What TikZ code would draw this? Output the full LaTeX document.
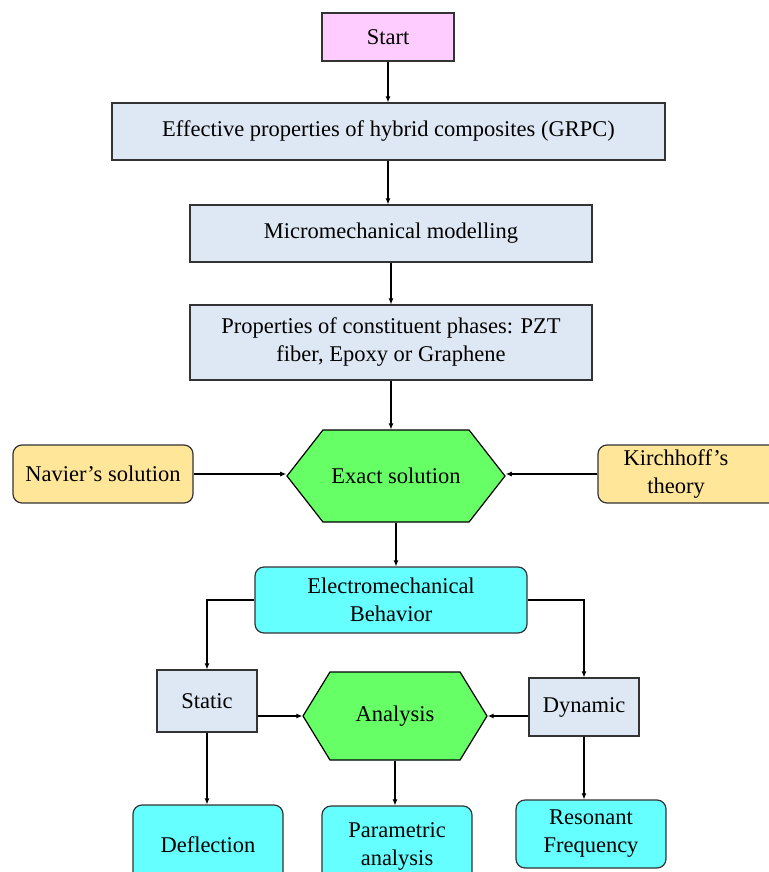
\documentclass[tikz,border=0pt]{standalone}
\usepackage{fontspec}
\setmainfont{Liberation Serif}
\usetikzlibrary{arrows.meta,shapes.symbols}
\definecolor{pinkf}{HTML}{FFCCFF}
\definecolor{bluef}{HTML}{DEE8F4}
\definecolor{greenf}{HTML}{66FF66}
\definecolor{cyanf}{HTML}{66FFFF}
\definecolor{orangef}{HTML}{FFE699}
\begin{document}
\begin{tikzpicture}[x=1pt,y=-1pt,
  every node/.style={font=\fontsize{22.5}{28}\selectfont, align=center, inner sep=0pt},
  box/.style={draw=black!80, line width=1.2pt, fill=bluef},
  rbox/.style={draw=black!80, line width=1.2pt, rounded corners=9pt},
  hexa/.style={draw=black, line width=1.2pt, fill=greenf, shape=signal, signal from=nowhere, signal to=east and west},
  arr/.style={line width=1.1pt, -{Latex[length=6pt,width=5pt]}}
]
\useasboundingbox (0,0) rectangle (768,872);
\node[box, fill=pinkf, minimum width=132pt, minimum height=48pt] (start) at (388,37) {Start};
\node[box, minimum width=553pt, minimum height=57pt] (eff) at (388.5,131.5) {Effective properties of hybrid composites (GRPC)};
\node[box, minimum width=402pt, minimum height=57pt] (micro) at (391,233.5) {Micromechanical modelling};
\node[box, minimum width=402pt, minimum height=75pt] (prop) at (391,342.5) {Properties of constituent phases: PZT\\fiber, Epoxy or Graphene};
\node[hexa, signal pointer angle=104, minimum width=218pt, minimum height=92pt] (exact) at (396,476) {Exact solution};
\node[rbox, fill=orangef, minimum width=180pt, minimum height=58pt] (nav) at (103,474) {Navier's solution};
\node[rbox, fill=orangef, minimum width=190pt, minimum height=58pt, text width=150pt] (kir) at (693,474) {\hspace*{-34pt}Kirchhoff's\\\hspace*{-34pt}theory};
\node[rbox, fill=cyanf, minimum width=272pt, minimum height=66pt] (elec) at (391,600) {Electromechanical\\Behavior};
\node[box, minimum width=100pt, minimum height=62pt] (stat) at (207,701) {Static};
\node[box, minimum width=110pt, minimum height=58pt] (dyn) at (584,707) {Dynamic};
\node[hexa, signal pointer angle=117, minimum width=184pt, minimum height=88pt] (ana) at (395,716) {Analysis};
\node[rbox, fill=cyanf, minimum width=150pt, minimum height=80pt] (defl) at (208,845) {Deflection};
\node[rbox, fill=cyanf, minimum width=150pt, minimum height=80pt] (para) at (397,846) {Parametric\\analysis};
\node[rbox, fill=cyanf, minimum width=150pt, minimum height=68pt] (reso) at (591,834) {Resonant\\Frequency};
\draw[arr] (start.south) -- (start.south |- eff.north);
\draw[arr] (eff.south -| start.south) -- (start.south |- micro.north);
\draw[arr] (micro.south) -- (prop.north);
\draw[arr] (prop.south) -- (prop.south |- exact.north);
\draw[arr] (nav.east) -- (exact.west |- nav.east);
\draw[arr] (kir.west) -- (exact.east |- kir.west);
\draw[arr] (exact.south) -- (exact.south |- elec.north);
\draw[arr] (elec.west) -| (stat.north);
\draw[arr] (elec.east) -| (dyn.north);
\draw[arr] (stat.east |- ana.west) -- (ana.west);
\draw[arr] (dyn.west |- ana.east) -- (ana.east);
\draw[arr] (stat.south) -- (defl.north -| stat.south);
\draw[arr] (ana.south) -- (para.north -| ana.south);
\draw[arr] (dyn.south) -- (reso.north -| dyn.south);
\end{tikzpicture}
\end{document}
